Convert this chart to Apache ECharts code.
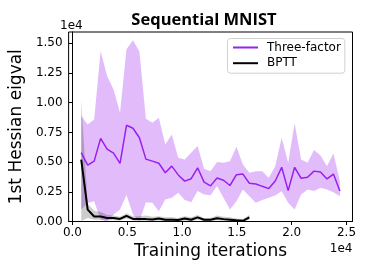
<!DOCTYPE html>
<html><head><meta charset="utf-8">
<script src="https://cdn.jsdelivr.net/npm/echarts@6/dist/echarts.min.js"></script>
<style>html,body{margin:0;padding:0;background:#fff}#c{width:374px;height:272px}</style>
</head><body><div id="c"></div>
<script>
// Training iterations (x positions of the recorded points)
const iterations = [800,1390,1980,2570,3160,3750,4340,4930,5520,6110,6700,7290,7880,8470,9060,9650,10240,10830,11420,12010,12600,13190,13780,14370,14960,15550,16140,16730,17320,17910,18500,19090,19680,20270,20860,21450,22040,22630,23220,23810,24400];
// Three-factor: mean and shaded band
const threeFactorMean = [5790,4740,5080,7000,6100,5750,4900,8100,7850,7050,5250,5080,4900,4100,4660,3920,3400,3600,4520,3310,3000,3660,3470,3030,3940,3990,3220,3160,2960,2770,3410,4560,2600,4560,3640,3720,4240,4170,3580,3990,2570];
const threeFactorUpper = [8900,8170,8590,14350,12240,11120,9150,14490,15250,14300,8650,8310,8730,6490,7330,5360,5220,5780,6350,4440,4240,5000,4940,5080,6290,4800,4100,4240,4240,3680,4660,7050,4940,8260,5220,4940,6010,5560,4660,5730,3400];
const threeFactorLower = [1000,1550,1700,150,0,590,1010,2220,590,0,1630,1570,870,1850,1990,2410,1800,1630,2560,2270,2200,2980,1990,1010,1710,2700,2130,1570,1800,1990,2190,2550,1570,1010,2270,2700,2560,2840,2700,2470,2130];
// BPTT: mean and shaded band (first 27 iterations)
const bpttMean = [5200,1000,420,420,300,300,220,480,220,200,200,170,250,150,150,120,250,150,350,150,150,280,200,150,100,60,350];
const bpttUpper = [10200,1500,900,800,550,500,400,700,450,450,500,400,450,350,350,300,450,350,550,300,300,500,400,350,250,200,550];
const bpttLower = [50,300,150,150,100,100,80,250,80,60,60,40,80,30,30,20,80,30,150,30,30,100,50,30,0,0,150];
// Tick values
const xTicks = [0,5000,10000,15000,20000,25000];
const yTicks = [0,2500,5000,7500,10000,12500,15000];

const seriesNames = ['Three-factor','BPTT'];
const purple = '#9b1ff0';
const purpleFill = 'rgba(160,32,240,0.3)';
const black = '#000000';
const grayFill = 'rgba(0,0,0,0.2)';

function pairs(xs, ys){ return ys.map((y,i)=>[xs[i], y]); }
const bpX = iterations.slice(0, bpttMean.length);

function bandSeries(name, xs, upper, lower, fill, z){
  return {
    name:name, type:'custom', silent:true, z:z,
    data:[[xs[0], upper[0]]],
    renderItem:function(params, api){
      const top = upper.map((u,i)=>api.coord([xs[i], u]));
      const bot = lower.map((l,i)=>api.coord([xs[i], l])).reverse();
      return {type:'polygon', shape:{points:top.concat(bot)}, style:{fill:fill},
        clipPath:{type:'rect', shape:{x:params.coordSys.x, y:params.coordSys.y, width:params.coordSys.width, height:params.coordSys.height}}};
    }
  };
}

const font = 'DejaVu Sans';
const chart = echarts.init(document.getElementById('c'), null, {renderer:'canvas'});
chart.setOption({
  animation:false,
  grid:{left:59.5,right:21.5,top:32,bottom:50.5,show:true,borderColor:'#000',borderWidth:1,backgroundColor:'transparent'},
  xAxis:{type:'value',min:-350,max:25550,
    name:'Training iterations',nameLocation:'middle',nameGap:21,
    nameTextStyle:{fontFamily:font,fontSize:17,color:'#000'},
    axisLine:{show:true,lineStyle:{color:'#000',width:1}},
    axisTick:{show:true,length:3.5,lineStyle:{color:'#000'},customValues:xTicks},
    axisLabel:{fontFamily:font,fontSize:12,color:'#000',margin:5,customValues:xTicks,
      formatter:v=>(v/10000).toFixed(1)},
    splitLine:{show:false}},
  yAxis:{type:'value',min:0,max:15950,
    name:'1st Hessian eigval',nameLocation:'middle',nameGap:40,
    nameTextStyle:{fontFamily:font,fontSize:17,color:'#000'},
    axisLine:{show:true,lineStyle:{color:'#000',width:1}},
    axisTick:{show:true,length:3.5,lineStyle:{color:'#000'},customValues:yTicks},
    axisLabel:{fontFamily:font,fontSize:12,color:'#000',margin:6,customValues:yTicks,
      formatter:v=>(v/10000).toFixed(2)},
    splitLine:{show:false}},
  legend:{data:seriesNames,orient:'vertical',left:227.5,top:38.5,
    padding:[3,4,4,4.5],itemGap:3.7,itemWidth:25,itemHeight:14,
    itemStyle:{opacity:0},
    textStyle:{fontFamily:font,fontSize:12,color:'#000',padding:[0,0,0,4]},
    borderColor:'#d0d0d0',borderWidth:1,borderRadius:3,backgroundColor:'rgba(255,255,255,0.8)'},
  graphic:[
    {type:'text',x:204,y:20,style:{text:'Sequential MNIST',font:'bold 16.5px "Open Sans"',textAlign:'center',textVerticalAlign:'middle',fill:'#000'}},
    {type:'text',x:60,y:26,style:{text:'1e4',font:'12px "DejaVu Sans"',textAlign:'left',textVerticalAlign:'middle',fill:'#000'}},
    {type:'text',x:352.5,y:248.5,style:{text:'1e4',font:'12px "DejaVu Sans"',textAlign:'right',textVerticalAlign:'middle',fill:'#000'}}
  ],
  series:[
    bandSeries('tfBand', iterations, threeFactorUpper, threeFactorLower, purpleFill, 1),
    bandSeries('bpBand', bpX, bpttUpper, bpttLower, grayFill, 2),
    {name:seriesNames[0],type:'line',data:pairs(iterations,threeFactorMean),symbol:'none',color:purple,lineStyle:{color:purple,width:1.5},z:3},
    {name:seriesNames[1],type:'line',data:pairs(bpX,bpttMean),symbol:'none',color:black,lineStyle:{color:black,width:2},z:4}
  ]
});
</script></body></html>
